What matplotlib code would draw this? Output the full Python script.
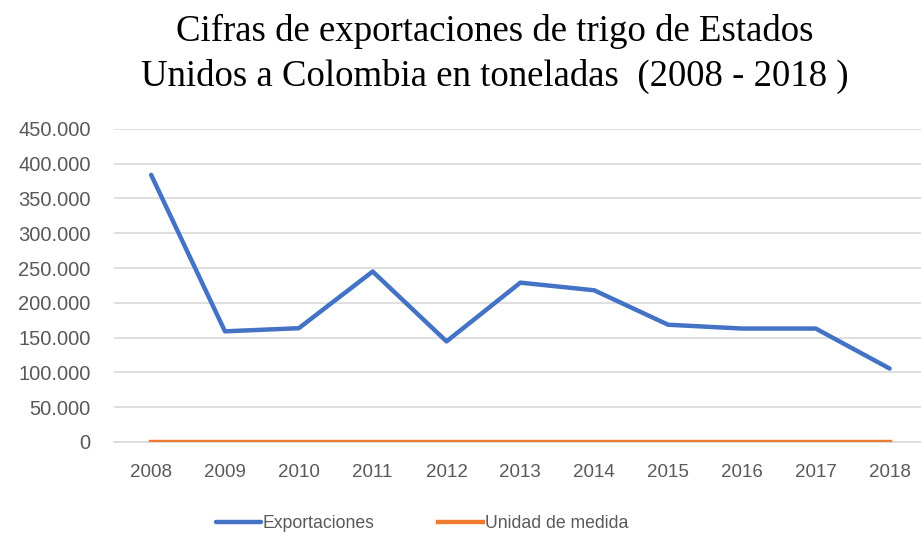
import matplotlib
matplotlib.use("Agg")
import matplotlib.pyplot as plt
from matplotlib.ticker import FuncFormatter

years = ["2008", "2009", "2010", "2011", "2012", "2013", "2014", "2015", "2016", "2017", "2018"]
exportaciones = [384000, 159000, 163500, 245000, 144500, 229000, 218000, 168500, 163000, 163000, 105500]
unidad_de_medida = [0, 0, 0, 0, 0, 0, 0, 0, 0, 0, 0]
y_ticks = [0, 50000, 100000, 150000, 200000, 250000, 300000, 350000, 400000, 450000]

fig = plt.figure(figsize=(9.21, 5.35), dpi=100)
ax = fig.add_axes([0.124, 0.174, 0.882, 0.585])

x = list(range(len(years)))
ax.plot(x, exportaciones, color="#4472C4", lw=3.2, solid_capstyle="round", label="Exportaciones", zorder=3)
ax.plot(x, unidad_de_medida, color="#ED7D31", lw=3.2, label="Unidad de medida", zorder=3)

ax.set_xlim(-0.5, len(years) - 0.5)
ax.set_ylim(0, 450000)
ax.set_yticks(y_ticks)
ax.yaxis.set_major_formatter(FuncFormatter(lambda v, p: f"{int(v):,}".replace(",", ".")))
ax.set_xticks(x)
ax.set_xticklabels(years)
ax.grid(axis="y", color="#D9D9D9", lw=1.2)
ax.set_axisbelow(True)
for s in ["top", "right", "left"]:
    ax.spines[s].set_visible(False)
ax.spines["bottom"].set_color("#D9D9D9")
ax.spines["bottom"].set_linewidth(1.2)
ax.tick_params(axis="both", length=0, colors="#595959")
ax.tick_params(axis="y", labelsize=14.5, pad=17)
ax.tick_params(axis="x", labelsize=13.5, pad=16)
for lab in ax.get_xticklabels() + ax.get_yticklabels():
    lab.set_fontfamily("Liberation Sans")

fig.text(0.537, 0.942, "Cifras de exportaciones de trigo de Estados", ha="center", va="center",
         fontsize=26.5, family="Liberation Serif", color="black")
fig.text(0.537, 0.858, "Unidos a Colombia en toneladas  (2008 - 2018 )", ha="center", va="center",
         fontsize=26.5, family="Liberation Serif", color="black")

leg = fig.legend(loc="center", bbox_to_anchor=(0.458, 0.022), ncol=2, frameon=False,
                 prop={"family": "Liberation Sans", "size": 12.7}, handlelength=2.55,
                 handletextpad=0.1, columnspacing=3.6)
for t in leg.get_texts():
    t.set_color("#595959")

fig.savefig("out.png", dpi=100)
